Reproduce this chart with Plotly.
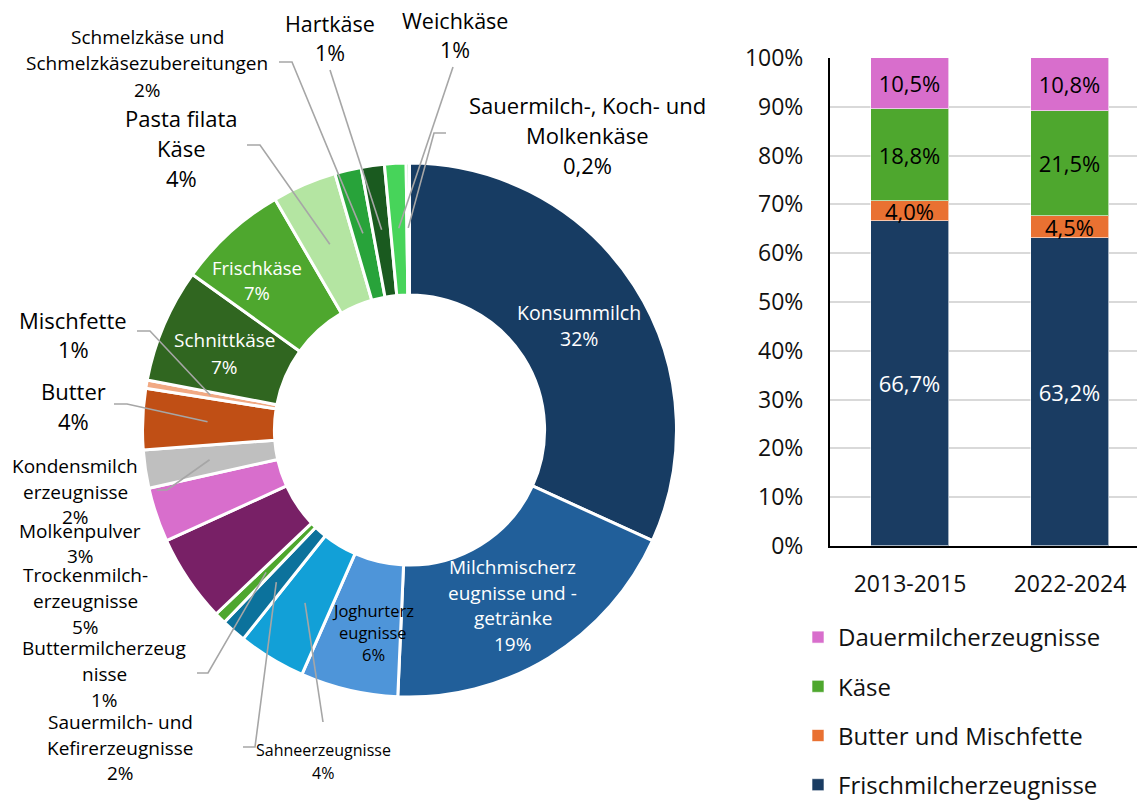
import math
import plotly.graph_objects as go

# ---------------- data ----------------
slice_names = [
    "Konsummilch", "Milchmischerzeugnisse und -getränke", "Joghurterzeugnisse",
    "Sahneerzeugnisse", "Sauermilch- und Kefirerzeugnisse", "Buttermilcherzeugnisse",
    "Trockenmilcherzeugnisse", "Molkenpulver", "Kondensmilcherzeugnisse",
    "Butter", "Mischfette", "Schnittkäse", "Frischkäse", "Pasta filata Käse",
    "Schmelzkäse und Schmelzkäsezubereitungen", "Hartkäse", "Weichkäse",
    "Sauermilch-, Koch- und Molkenkäse",
]
slice_values = [31.8, 18.9, 5.9, 4.1, 1.5, 0.7, 5.3, 3.3, 2.3, 3.7, 0.5,
                6.9, 6.7, 3.9, 1.6, 1.4, 1.3, 0.2]
slice_label_lines = [
    ["Konsummilch"],
    ["Milchmischerz", "eugnisse und -", "getränke"],
    ["Joghurterz", "eugnisse"],
    ["Sahneerzeugnisse"],
    ["Sauermilch- und", "Kefirerzeugnisse"],
    ["Buttermilcherzeug", "nisse"],
    ["Trockenmilch-", "erzeugnisse"],
    ["Molkenpulver"],
    ["Kondensmilch", "erzeugnisse"],
    ["Butter"],
    ["Mischfette"],
    ["Schnittkäse"],
    ["Frischkäse"],
    ["Pasta filata", "Käse"],
    ["Schmelzkäse und", "Schmelzkäsezubereitungen"],
    ["Hartkäse"],
    ["Weichkäse"],
    ["Sauermilch-, Koch- und", "Molkenkäse"],
]

bar_categories = ["2013-2015", "2022-2024"]
bar_series = ["Frischmilcherzeugnisse", "Butter und Mischfette", "Käse", "Dauermilcherzeugnisse"]
frisch_values = [66.7, 63.2]
butter_values = [4.0, 4.5]
kaese_values = [18.8, 21.5]
dauer_values = [10.5, 10.8]
y_ticks = [0, 10, 20, 30, 40, 50, 60, 70, 80, 90, 100]
y_tick_labels = [f"{v}%" for v in y_ticks]

# ---------------- styles / layout ----------------
W, H = 1145, 800
OFF = 8  # page body margin
FONT = "Open Sans"
slice_colors = ["#173c63", "#215f9a", "#4e95d9", "#12a0d7", "#0c729c", "#4ea72e",
                "#782066", "#d86ecc", "#bfbfbf", "#c04f15", "#f1a983", "#306620",
                "#4ea72e", "#b4e5a2", "#28a33a", "#1a5a1f", "#47d45a", "#8fd99a"]
bar_colors = ["#1a3c62", "#e97132", "#4ea72e", "#d86ecc"]
bar_text_colors = ["white", "black", "black", "black"]
legend_rank = [4, 3, 2, 1]

CX, CY, R = 409.5, 430.0, 267.0
HOLE = 0.506
ANCHOR_R = 0.757 * R

# label placement (page pixels): center x, first-line y, line spacing, font size, color, leader points
label_layout = {
    0: dict(x=579, y=312, sp=26, size=19.5, color="white", lead=None),
    1: dict(x=513, y=567, sp=25.5, size=19, color="white", lead=None),
    2: dict(x=373, y=610, sp=22, size=16.5, color="black", lead=None),
    3: dict(x=323, y=750, sp=23, size=16, color="black", lead=[(323, 722)]),
    4: dict(x=120, y=722, sp=25.5, size=19, color="black", lead=[(243, 747), (255, 747)]),
    5: dict(x=104, y=648, sp=26, size=19, color="black", lead=[(197, 673), (208, 673)]),
    6: dict(x=85, y=575, sp=26, size=19, color="black", lead=None),
    7: dict(x=80, y=531, sp=25, size=19, color="black", lead=None),
    8: dict(x=75, y=466, sp=25.5, size=19, color="black", lead=[(157, 490), (167, 490)]),
    9: dict(x=73, y=391, sp=30, size=22, color="black", lead=[(114, 404), (127, 404)]),
    10: dict(x=73, y=320, sp=29, size=22, color="black", lead=[(137, 331), (150, 331)]),
    11: dict(x=224, y=340, sp=27, size=19, color="white", lead=None),
    12: dict(x=257, y=267, sp=26, size=18.5, color="white", lead=None),
    13: dict(x=181, y=118, sp=30, size=22, color="black", lead=[(247, 145), (260, 145)]),
    14: dict(x=147, y=37, sp=26.5, size=19, color="black", lead=[(279, 62), (292, 62)]),
    15: dict(x=330, y=23, sp=29.5, size=21.5, color="black", lead=[(330, 70)]),
    16: dict(x=455, y=21, sp=28.5, size=21.5, color="black", lead=[(453, 67)]),
    17: dict(x=587, y=105, sp=30, size=22, color="black", lead=[(446, 133), (434, 133)]),
}


def px(x):
    return (x - OFF) / W


def py(y):
    return 1 - (y - OFF) / H


def pct_text(v):
    if v < 0.5:
        return f"{v:.1f}%".replace(".", ",")
    return f"{int(math.floor(v + 0.5))}%"


fig = go.Figure()

# ---------------- donut ----------------
fig.add_trace(go.Pie(
    labels=slice_names, values=slice_values, sort=False, direction="clockwise",
    rotation=0, hole=HOLE, textinfo="none", showlegend=False,
    marker=dict(colors=slice_colors, line=dict(color="white", width=3)),
    domain=dict(x=[px(CX - R), px(CX + R)], y=[py(CY + R), py(CY - R)]),
))

annotations = []
shapes = []
total = sum(slice_values)
cum = 0.0
for i, v in enumerate(slice_values):
    mid = (cum + v / 2) / total
    cum += v
    theta = 2 * math.pi * mid
    ax = CX + ANCHOR_R * math.sin(theta)
    ay = CY - ANCHOR_R * math.cos(theta)
    spec = label_layout[i]
    lines = slice_label_lines[i] + [pct_text(v)]
    for k, line in enumerate(lines):
        annotations.append(dict(
            x=px(spec["x"]), y=py(spec["y"] + k * spec["sp"]), xref="paper", yref="paper",
            text=line, showarrow=False, xanchor="center", yanchor="middle",
            font=dict(family=FONT, size=spec["size"], color=spec["color"]),
        ))
    if spec["lead"]:
        pts = spec["lead"] + [(ax, ay)]
        path = "M " + " L ".join(f"{px(x):.5f},{py(y):.5f}" for x, y in pts)
        shapes.append(dict(type="path", xref="paper", yref="paper", path=path,
                           line=dict(color="#a6a6a6", width=1.6)))

# ---------------- stacked bars ----------------
for name, vals, col, tcol, rank in zip(bar_series,
                                       [frisch_values, butter_values, kaese_values, dauer_values],
                                       bar_colors, bar_text_colors, legend_rank):
    fig.add_trace(go.Bar(
        x=bar_categories, y=vals, name=name, legendgroup=name, legendrank=rank,
        marker=dict(color=col, line=dict(color="rgba(255,255,255,0.6)", width=1)),
        width=0.49, texttemplate="%{y:.1f}%", textposition="inside",
        insidetextanchor="middle", textangle=0, constraintext="none",
        textfont=dict(family=FONT, size=22, color=tcol),
        xaxis="x", yaxis="y",
    ))

fig.update_layout(
    width=W, height=H, margin=dict(l=0, r=0, t=0, b=0, autoexpand=False),
    paper_bgcolor="white", plot_bgcolor="white",
    separators=",.",
    barmode="stack", bargap=0,
    font=dict(family=FONT, color="#111111"),
    xaxis=dict(domain=[px(830), px(1150)], range=[-0.5, 1.5], type="category",
               showline=True, linecolor="black", linewidth=2, showgrid=False,
               ticks="", tickfont=dict(family=FONT, size=23, color="#111111"),
               ticklabelstandoff=16, fixedrange=True, automargin=False),
    yaxis=dict(domain=[py(546), py(58)], range=[0, 100], tickmode="array",
               tickvals=y_ticks, ticktext=y_tick_labels,
               showline=True, linecolor="black", linewidth=2,
               showgrid=True, gridcolor="#d9d9d9", gridwidth=2, zeroline=False,
               ticks="", tickfont=dict(family=FONT, size=23, color="#111111"),
               ticklabelstandoff=20, fixedrange=True, automargin=False),
    legend=dict(x=px(798), y=py(615), xanchor="left", yanchor="top",
                traceorder="grouped", tracegroupgap=15,
                font=dict(family=FONT, size=24, color="#111111"),
                bgcolor="rgba(0,0,0,0)"),
    annotations=annotations, shapes=shapes,
)

fig.write_html("out.html")
